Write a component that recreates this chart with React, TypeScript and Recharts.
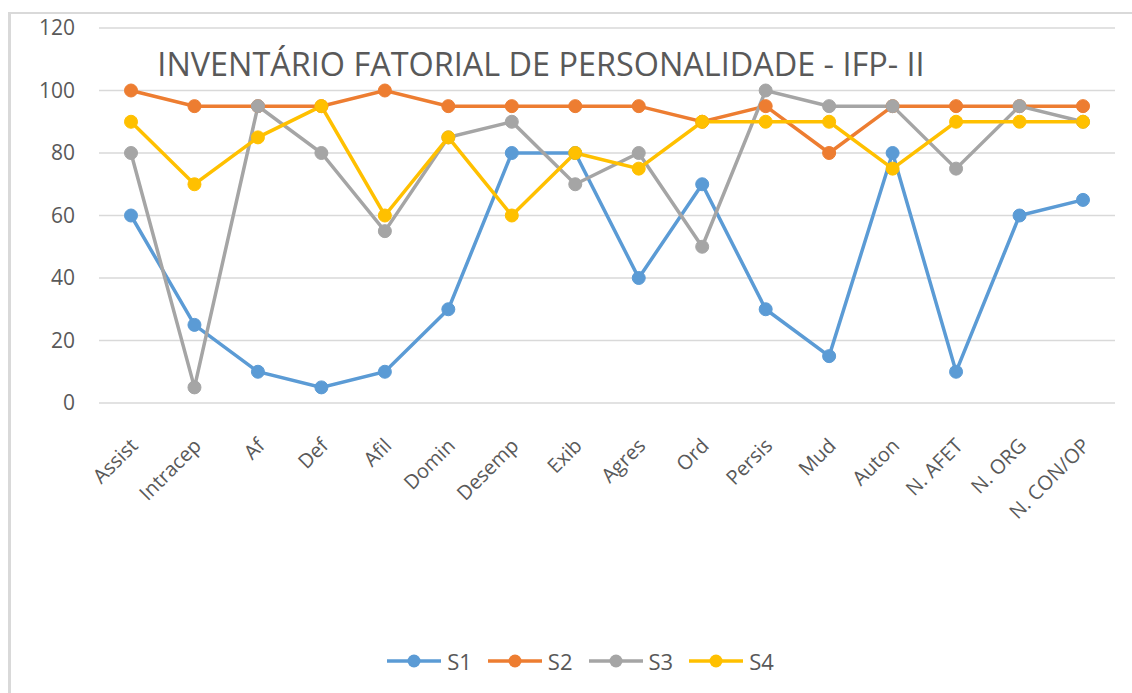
import * as React from 'react';
import { CartesianGrid, Legend, Line, LineChart, XAxis, YAxis } from 'recharts';

const categorias = [
  'Assist', 'Intracep', 'Af', 'Def', 'Afil', 'Domin', 'Desemp', 'Exib',
  'Agres', 'Ord', 'Persis', 'Mud', 'Auton', 'N. AFET', 'N. ORG', 'N. CON/OP',
];
const s1 = [60, 25, 10, 5, 10, 30, 80, 80, 40, 70, 30, 15, 80, 10, 60, 65];
const s2 = [100, 95, 95, 95, 100, 95, 95, 95, 95, 90, 95, 80, 95, 95, 95, 95];
const s3 = [80, 5, 95, 80, 55, 85, 90, 70, 80, 50, 100, 95, 95, 75, 95, 90];
const s4 = [90, 70, 85, 95, 60, 85, 60, 80, 75, 90, 90, 90, 75, 90, 90, 90];
const yTicks = [0, 20, 40, 60, 80, 100, 120];

const series = [
  { key: 'S1', cor: '#5B9BD5', valores: s1 },
  { key: 'S2', cor: '#ED7D31', valores: s2 },
  { key: 'S3', cor: '#A5A5A5', valores: s3 },
  { key: 'S4', cor: '#FFC000', valores: s4 },
];

const data = categorias.map((nome, i) => {
  const linha: Record<string, string | number> = { nome };
  for (const s of series) linha[s.key] = s.valores[i];
  return linha;
});

const FONTE = '"Open Sans", "DejaVu Sans", sans-serif';

function TickX({ x, y, payload }: { x?: number; y?: number; payload?: { value: string } }) {
  return (
    <g transform={`translate(${(x ?? 0) + 8},${(y ?? 0) + 36})`}>
      <text transform="rotate(-45)" textAnchor="end" fill="#595959" fontSize={20} fontFamily={FONTE}>
        {payload?.value}
      </text>
    </g>
  );
}

function LegendaKustom() {
  return (
    <div style={{ display: 'flex', justifyContent: 'center', fontFamily: FONTE }}>
      {series.map((s, i) => (
        <div key={s.key} style={{ display: 'flex', alignItems: 'center', marginRight: i < series.length - 1 ? 15 : 0 }}>
          <svg width={56} height={22}>
            <line x1={1} y1={11} x2={55} y2={11} stroke={s.cor} strokeWidth={3.5} />
            <circle cx={28} cy={11} r={6.5} fill={s.cor} />
          </svg>
          <span style={{ fontSize: 22, lineHeight: '22px', color: '#595959', marginLeft: 5 }}>{s.key}</span>
        </div>
      ))}
    </div>
  );
}

export default function App() {
  return (
    <div style={{ position: 'absolute', left: 0, top: 0, width: 1132, height: 693, background: '#fff', overflow: 'hidden' }}>
      <div
        style={{
          position: 'absolute', left: 8, top: 12, width: 1200, height: 800,
          borderTop: '2px solid #d9d9d9', borderLeft: '3px solid #d9d9d9',
        }}
      />
      <div
        style={{
          position: 'absolute', left: 0, width: 1082, top: 41, textAlign: 'center',
          fontSize: 32.4, color: '#595959', fontFamily: FONTE, zIndex: 2, whiteSpace: 'nowrap',
        }}
      >
        INVENTÁRIO FATORIAL DE PERSONALIDADE - IFP- II
      </div>
      <LineChart width={1132} height={693} data={data} margin={{ top: 28, right: 17, left: 20, bottom: 0 }}>
        <CartesianGrid horizontal vertical={false} stroke="#d9d9d9" strokeWidth={1.5} />
        <XAxis
          dataKey="nome"
          height={290}
          interval={0}
          axisLine={false}
          tickLine={false}
          padding={{ left: 32, right: 32 }}
          tick={<TickX />}
        />
        <YAxis
          width={79}
          domain={[0, 120]}
          ticks={yTicks}
          axisLine={false}
          tickLine={false}
          tickMargin={18}
          tick={{ fill: '#595959', fontSize: 21, fontFamily: FONTE }}
        />
        <Legend
          layout="horizontal"
          verticalAlign="middle"
          align="center"
          content={<LegendaKustom />}
          wrapperStyle={{ top: 650, left: 0, width: 1160 }}
        />
        {series.map((s) => (
          <Line
            key={s.key}
            dataKey={s.key}
            stroke={s.cor}
            strokeWidth={3.5}
            dot={{ r: 6.5, fill: s.cor, stroke: s.cor, strokeWidth: 1 }}
            activeDot={false}
            isAnimationActive={false}
          />
        ))}
      </LineChart>
    </div>
  );
}
